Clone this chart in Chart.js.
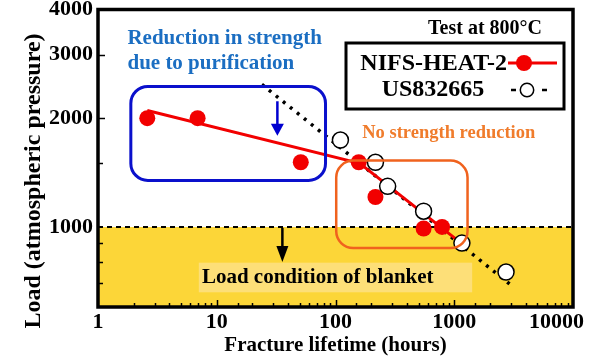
<!DOCTYPE html>
<html>
<head>
<meta charset="utf-8">
<script src="https://cdn.jsdelivr.net/npm/chart.js@4.4.0/dist/chart.umd.min.js"></script>
<style>
  html, body { margin: 0; padding: 0; background: #fff; }
  #wrap { width: 600px; height: 360px; }
</style>
</head>
<body>
<div id="wrap"><canvas id="chart"></canvas></div>
<script>
// NIFS-HEAT-2, filled red circles (hours, atm)
const nifsLife = [2.6, 6.9, 51, 157, 217, 552, 790];
const nifsLoad = [2000, 2000, 1510, 1510, 1210, 990, 1000];
// red trend line
const nifsFitLife = [2.6, 160, 1150];
const nifsFitLoad = [2100, 1500, 900];

// US832665, open circles
const usLife = [110, 217, 275, 552, 1160, 2730];
const usLoad = [1740, 1510, 1295, 1105, 902, 750];
// black dotted trend line
const usFitLife = [24, 3000];
const usFitLoad = [2480, 690];

// load condition of blanket
const limitLife = [1, 10000];
const limitLoad = [1000, 1000];

const xTicks = [1, 10, 100, 1000, 10000];
const yTicks = [1000, 2000, 3000, 4000];

const serif = '"Liberation Serif", "Times New Roman", serif';
const red = '#f20000';
const yellow = '#fcd638';

function pts(xs, ys) {
    return xs.map((x, i) => ({ x: x, y: ys[i] }));
}

function roundBox(ctx, x1, y1, x2, y2, r) {
    ctx.beginPath();
    ctx.moveTo(x1 + r, y1);
    ctx.arcTo(x2, y1, x2, y2, r);
    ctx.arcTo(x2, y2, x1, y2, r);
    ctx.arcTo(x1, y2, x1, y1, r);
    ctx.arcTo(x1, y1, x2, y1, r);
    ctx.closePath();
    ctx.stroke();
}

function arrowDown(ctx, x, y1, y2, color, w, headLen, headW) {
    ctx.strokeStyle = color;
    ctx.fillStyle = color;
    ctx.lineWidth = w;
    ctx.beginPath();
    ctx.moveTo(x, y1);
    ctx.lineTo(x, y2 - headLen + 1);
    ctx.stroke();
    ctx.beginPath();
    ctx.moveTo(x - headW / 2, y2 - headLen);
    ctx.lineTo(x + headW / 2, y2 - headLen);
    ctx.lineTo(x, y2);
    ctx.closePath();
    ctx.fill();
}

// frame, inward ticks, notes and legend
const decor = {
    id: 'decor',
    afterDatasetsDraw(chart) {
        const { ctx, chartArea: a, scales: { x, y } } = chart;
        const X = v => x.getPixelForValue(v);
        const Y = v => y.getPixelForValue(v);
        ctx.save();

        // ticks pointing inside
        ctx.strokeStyle = '#000';
        ctx.lineWidth = 1.5;
        x.ticks.forEach(t => {
            if (t.value <= x.min || t.value >= x.max) return;
            const len = xTicks.includes(t.value) ? 7 : 4;
            const px = Math.round(X(t.value)) + 0.5;
            ctx.beginPath();
            ctx.moveTo(px, a.bottom);
            ctx.lineTo(px, a.bottom - len);
            ctx.stroke();
        });
        y.ticks.forEach(t => {
            if (t.value <= y.min || t.value >= y.max || t.value === 1000) return;
            const len = yTicks.includes(t.value) ? 7 : 5;
            const py = Math.round(Y(t.value)) + 0.5;
            ctx.beginPath();
            ctx.moveTo(a.left, py);
            ctx.lineTo(a.left + len, py);
            ctx.stroke();
        });

        // light box behind the blanket note
        ctx.fillStyle = '#fddf78';
        ctx.fillRect(X(7.06), Y(796), X(1416) - X(7.06), Y(659) - Y(796));
        ctx.fillStyle = '#000';
        ctx.font = 'bold 21px ' + serif;
        ctx.textBaseline = 'middle';
        ctx.textAlign = 'left';
        ctx.fillText('Load condition of blanket', X(7.5), Y(725));

        arrowDown(ctx, X(35.7), Y(994), Y(800), '#000', 2.5, 16, 12);

        // purification box
        ctx.strokeStyle = '#0a10cc';
        ctx.lineWidth = 3;
        roundBox(ctx, X(1.89), Y(2449), X(82.4), Y(1345), 17);
        arrowDown(ctx, X(32.4), Y(2228), Y(1787), '#0000d0', 2.5, 12, 13);
        ctx.fillStyle = '#1b6ec2';
        ctx.font = 'bold 21px ' + serif;
        ctx.textAlign = 'left';
        ctx.fillText('Reduction in strength', X(1.77), Y(3316));
        ctx.fillText('due to purification', X(1.77), Y(2832));

        // no reduction box
        ctx.strokeStyle = '#f0621e';
        ctx.lineWidth = 2.5;
        roundBox(ctx, X(101.4), Y(1526), X(1294), Y(874), 17);
        ctx.fillStyle = '#f07c2c';
        ctx.font = 'bold 18.5px ' + serif;
        ctx.fillText('No strength reduction', X(168), Y(1820));

        // header
        ctx.fillStyle = '#000';
        ctx.font = 'bold 20px ' + serif;
        ctx.textAlign = 'right';
        ctx.fillText('Test at 800\u00b0C', a.right - 31, 29);

        // legend box
        const lx = a.right - 227, ly = 43;
        ctx.lineWidth = 3;
        ctx.strokeStyle = '#000';
        ctx.strokeRect(lx, ly, 218, 66);
        ctx.font = 'bold 24px ' + serif;
        ctx.textAlign = 'right';
        ctx.fillText('NIFS-HEAT-2', lx + 161, ly + 21);
        ctx.textAlign = 'center';
        ctx.fillText('US832665', lx + 87, ly + 47);
        ctx.strokeStyle = red;
        ctx.lineWidth = 3;
        ctx.beginPath();
        ctx.moveTo(lx + 162, ly + 20);
        ctx.lineTo(lx + 211, ly + 20);
        ctx.stroke();
        ctx.fillStyle = red;
        ctx.beginPath();
        ctx.arc(lx + 178, ly + 20, 8, 0, Math.PI * 2);
        ctx.fill();
        ctx.strokeStyle = '#000';
        ctx.lineWidth = 2.5;
        ctx.beginPath();
        ctx.moveTo(lx + 165, ly + 47);
        ctx.lineTo(lx + 170, ly + 47);
        ctx.moveTo(lx + 196, ly + 47);
        ctx.lineTo(lx + 201, ly + 47);
        ctx.stroke();
        ctx.lineWidth = 1.5;
        ctx.fillStyle = '#fff';
        ctx.beginPath();
        ctx.arc(lx + 181, ly + 47, 6.7, 0, Math.PI * 2);
        ctx.fill();
        ctx.stroke();

        // frame
        ctx.lineWidth = 3.5;
        ctx.strokeStyle = '#000';
        ctx.strokeRect(a.left, a.top, a.right - a.left, a.bottom - a.top);

        // y title
        ctx.fillStyle = '#000';
        ctx.font = 'bold 24px ' + serif;
        ctx.textAlign = 'center';
        ctx.translate(34, 181);
        ctx.rotate(-Math.PI / 2);
        ctx.fillText('Load (atmospheric pressure)', 0, 0);
        ctx.restore();
    }
};

const tickFont = { family: serif, size: 22, weight: 'bold' };

new Chart(document.getElementById('chart'), {
    type: 'scatter',
    data: {
        datasets: [
            {
                label: 'US832665',
                data: pts(usLife, usLoad),
                order: 0,
                pointRadius: 8,
                pointBackgroundColor: '#fff',
                pointBorderColor: '#000',
                pointBorderWidth: 1.5
            },
            {
                label: 'NIFS-HEAT-2',
                data: pts(nifsLife, nifsLoad),
                order: 1,
                pointRadius: 8,
                pointBackgroundColor: red,
                pointBorderColor: red,
                pointBorderWidth: 0
            },
            {
                label: 'NIFS-HEAT-2 trend',
                type: 'line',
                data: pts(nifsFitLife, nifsFitLoad),
                order: 2,
                borderColor: red,
                borderWidth: 3,
                pointRadius: 0
            },
            {
                label: 'US832665 trend',
                type: 'line',
                data: pts(usFitLife, usFitLoad),
                order: 3,
                borderColor: '#000',
                borderWidth: 3.5,
                borderDash: [3, 6],
                pointRadius: 0
            },
            {
                label: 'Load condition of blanket',
                type: 'line',
                data: pts(limitLife, limitLoad),
                order: 4,
                borderColor: '#000',
                borderWidth: 2,
                borderDash: [5, 4],
                backgroundColor: yellow,
                fill: 'start',
                pointRadius: 0
            }
        ]
    },
    options: {
        responsive: true,
        maintainAspectRatio: false,
        animation: false,
        layout: { padding: { left: 0, right: 27, top: 7, bottom: 0 } },
        plugins: {
            legend: { display: false },
            tooltip: { enabled: false }
        },
        scales: {
            x: {
                type: 'logarithmic',
                min: 1,
                max: 10000,
                grid: { display: false, drawTicks: false },
                border: { display: false },
                afterFit: function (scale) {
                    scale.height = 53;
                    scale.paddingLeft = 0;
                    scale.paddingRight = 0;
                },
                ticks: {
                    autoSkip: false,
                    maxRotation: 0,
                    padding: 2,
                    color: '#000',
                    font: tickFont,
                    // last label sits a little left of its tick, as in the original
                    callback: v => v === 10000 ? '10000\u00a0\u00a0\u00a0\u00a0\u00a0\u00a0'
                        : (xTicks.includes(v) ? String(v) : '')
                },
                title: {
                    display: true,
                    text: 'Fracture lifetime (hours)',
                    color: '#000',
                    font: { family: serif, size: 21, weight: 'bold' },
                    padding: { top: 0, bottom: 2 }
                }
            },
            y: {
                type: 'logarithmic',
                min: 600,
                max: 4000,
                grid: { display: false, drawTicks: false },
                border: { display: false },
                afterFit: function (scale) {
                    scale.width = 98;
                    scale.paddingTop = 0;
                    scale.paddingBottom = 0;
                },
                ticks: {
                    autoSkip: false,
                    padding: 5,
                    color: '#000',
                    font: tickFont,
                    callback: v => yTicks.includes(v) ? String(v) : ''
                }
            }
        }
    },
    plugins: [decor]
});
</script>
</body>
</html>
